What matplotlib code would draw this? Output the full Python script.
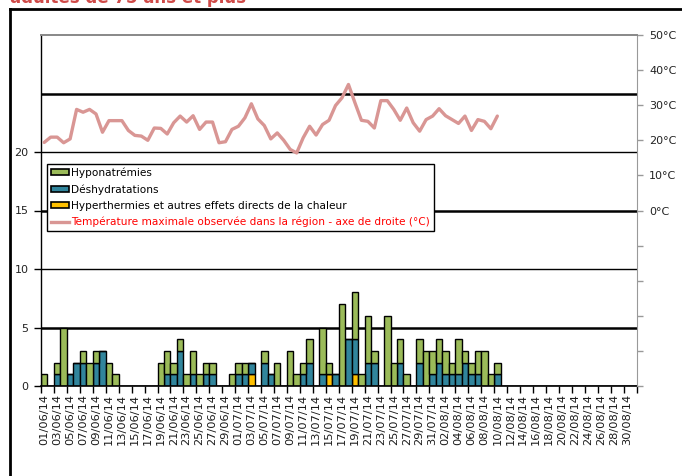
import matplotlib
matplotlib.use("Agg")
import matplotlib.pyplot as plt
import numpy as np
import pandas as pd
from matplotlib.lines import Line2D
from matplotlib.patches import Patch

# ---------------- data ----------------
dates = pd.date_range("2014-06-01", "2014-08-31", freq="D")
date_labels = [d.strftime("%d/%m/%y") for d in dates]

# counts per day (01/06 .. 31/08); days after 10/08 are zero
hyper = [0]*32 + [1] + [0]*11 + [1] + [0]*3 + [1] + [0]*43
deshy = [0, 0, 1, 0, 1, 2, 2, 0, 2, 3, 0, 0, 0, 0, 0, 0, 0, 0, 0, 1,
         1, 3, 0, 1, 0, 1, 1, 0, 0, 0, 1, 1, 1, 0, 2, 1, 0, 0, 0, 0,
         1, 2, 0, 1, 0, 1, 0, 4, 3, 0, 2, 2, 0, 0, 0, 2, 0, 0, 2, 0,
         1, 2, 1, 1, 1, 2, 1, 1, 0, 0, 1] + [0]*21
hypo = [1, 0, 1, 5, 0, 0, 1, 2, 1, 0, 2, 1, 0, 0, 0, 0, 0, 0, 2, 2,
        1, 1, 1, 2, 1, 1, 1, 0, 0, 1, 1, 1, 0, 0, 1, 0, 2, 0, 3, 1,
        1, 2, 0, 4, 1, 0, 7, 0, 4, 1, 4, 1, 0, 6, 2, 2, 1, 0, 2, 3,
        2, 2, 2, 1, 3, 1, 1, 2, 3, 1, 1] + [0]*21

# max temperature (°C), 01/06 .. 10/08
temp = [19.4, 20.9, 20.9, 19.3, 20.4, 28.8, 28.0, 28.8, 27.5, 22.3,
        25.6, 25.6, 25.6, 22.8, 21.4, 21.2, 20.0, 23.5, 23.4, 21.8,
        25.0, 26.9, 25.2, 27.0, 23.1, 25.2, 25.2, 19.3, 19.6, 23.1,
        24.0, 26.4, 30.4, 26.1, 24.2, 20.4, 22.1, 20.0, 17.4, 16.4,
        20.7, 24.0, 21.5, 24.5, 25.7, 29.9, 32.1, 35.9, 30.7, 25.7,
        25.4, 23.5, 31.3, 31.3, 28.8, 25.7, 29.2, 25.0, 22.6, 25.9,
        26.9, 29.0, 27.0, 25.9, 24.8, 26.9, 22.8, 25.9, 25.4, 23.3,
        26.9]

left_ticks = [0, 5, 10, 15, 20]
right_ticks = [-50, -40, -30, -20, -10, 0, 10, 20, 30, 40, 50]
right_labels = ["", "", "", "", "", "0°C", "10°C", "20°C", "30°C", "40°C", "50°C"]

series_names = ["Hyponatrémies", "Déshydratations",
                "Hyperthermies et autres effets directs de la chaleur"]
temp_name = "Température maximale observée dans la région - axe de droite (°C)"
title = "adultes de 75 ans et plus"

# ---------------- styles ----------------
c_hypo = "#9BBB59"
c_deshy = "#31859C"
c_hyper = "#FFC000"
c_temp = "#D99694"

plt.rcParams["font.family"] = ["DejaVu Sans"]

fig = plt.figure(figsize=(6.82, 4.76), dpi=100)
ax = fig.add_axes([41/682, 1 - 386/476, (636.5-41)/682, (386-35)/476])

x = np.arange(len(dates))
hyper_a = np.array(hyper)
deshy_a = np.array(deshy)
hypo_a = np.array(hypo)

# gridlines
for yv, lw in [(5, 1.8), (10, 1.0), (15, 1.8), (20, 1.0), (25, 1.8)]:
    ax.axhline(yv, color="black", lw=lw, zorder=0.5)

kw = dict(width=1.0, edgecolor="black", linewidth=1.0, zorder=2)
ax.bar(x, hyper_a, color=c_hyper, **kw)
ax.bar(x, deshy_a, bottom=hyper_a, color=c_deshy, **kw)
ax.bar(x, hypo_a, bottom=hyper_a + deshy_a, color=c_hypo, **kw)

ax.set_xlim(-0.5, len(dates) - 0.5)
ax.set_ylim(0, 30)
ax.set_yticks(left_ticks)
ax.set_yticklabels([str(v) for v in left_ticks])
ax.tick_params(axis="y", direction="out", length=5, width=1, color="black",
               labelsize=8, pad=4, labelcolor="#222222")

ax.set_xticks(x[::2])
ax.set_xticklabels(date_labels[::2], rotation=90, fontsize=8.2, color="#1a1a1a")
ax.set_xticks(np.arange(-0.5, len(dates), 2), minor=True)
ax.tick_params(axis="x", which="major", length=0, pad=6)
ax.tick_params(axis="x", which="minor", length=5, width=1, color="black", direction="out")

for s in ["top", "right"]:
    ax.spines[s].set_visible(False)
ax.spines["left"].set_color("black")
ax.spines["left"].set_linewidth(1.0)
ax.spines["bottom"].set_color("black")
ax.spines["bottom"].set_linewidth(1.2)

# right axis
ax2 = ax.twinx()
ax2.plot(x[:len(temp)], temp, color=c_temp, lw=2.4, zorder=3, solid_capstyle="round")
ax2.set_ylim(-50, 50)
ax2.set_yticks(right_ticks)
ax2.set_yticklabels(right_labels)
ax2.tick_params(axis="y", direction="out", length=4, width=1, color="#999999",
                labelsize=8, pad=5, labelcolor="#222222")
ax2.spines["right"].set_color("#999999")
ax2.spines["top"].set_color("#888888")
ax2.spines["top"].set_linewidth(1.4)
ax2.spines["left"].set_visible(False)
ax2.spines["bottom"].set_visible(False)

handles = [Patch(facecolor=c_hypo, edgecolor="black", lw=1.2),
           Patch(facecolor=c_deshy, edgecolor="black", lw=1.2),
           Patch(facecolor=c_hyper, edgecolor="black", lw=1.2),
           Line2D([], [], color=c_temp, lw=2.4)]
leg = ax2.legend(handles, series_names + [temp_name], loc="upper left",
                 bbox_to_anchor=(0.010, 0.633), borderaxespad=0, fontsize=7.6,
                 frameon=True, fancybox=False, edgecolor="black", framealpha=1,
                 labelspacing=0.58, handlelength=1.7, handleheight=0.55,
                 handletextpad=0.25, borderpad=0.35)
leg.get_frame().set_linewidth(1.0)
leg.set_zorder(10)
for t in leg.get_texts()[:3]:
    t.set_color("black")
leg.get_texts()[3].set_color("#FF0000")

# outer frame and cut title
fig.add_artist(Line2D([10/682, 1.0], [1 - 9/476, 1 - 9/476], color="black", lw=2.0))
fig.add_artist(Line2D([10/682, 10/682], [0, 1 - 9/476], color="black", lw=2.0))
fig.text(10/682, 1 - 3/476, title, color="#CF4A48", fontsize=12,
         fontweight="bold", va="baseline", ha="left")

fig.savefig("out.png", dpi=100)
